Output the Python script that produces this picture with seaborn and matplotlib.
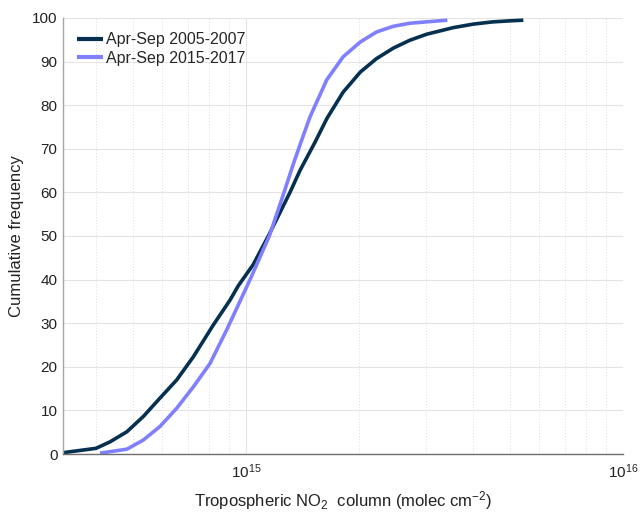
import numpy as np
import pandas as pd
import matplotlib
matplotlib.use("Agg")
import matplotlib.pyplot as plt
import seaborn as sns
from matplotlib.ticker import LogLocator, NullFormatter

# ---- data (x in molec cm^-2, y cumulative frequency %) ----
x_2005 = [3.27e14, 4.0e14, 4.36e14, 4.83e14, 5.34e14, 5.91e14, 6.55e14, 7.25e14,
          8.19e14, 9.07e14, 9.54e14, 1.046e15, 1.146e15, 1.308e15, 1.39e15, 1.524e15, 1.64e15,
          1.81e15, 2.01e15, 2.22e15, 2.46e15, 2.72e15, 3.02e15, 3.55e15,
          4.01e15, 4.5e15, 5.01e15, 5.44e15]
y_2005 = [0.3, 1.3, 2.8, 5.1, 8.6, 12.8, 17.0, 22.3,
          29.6, 35.3, 38.6, 43.5, 50.0, 60.0, 65.0, 71.5, 77.0,
          83.0, 87.6, 90.7, 93.1, 94.9, 96.3, 97.8,
          98.6, 99.1, 99.35, 99.5]

x_2015 = [4.1e14, 4.83e14, 5.34e14, 5.91e14, 6.55e14, 7.25e14, 8.03e14, 8.89e14,
          1.025e15, 1.153e15, 1.256e15, 1.335e15, 1.405e15, 1.478e15, 1.637e15,
          1.81e15, 2.01e15, 2.22e15, 2.46e15, 2.72e15, 3.42e15]
y_2015 = [0.2, 1.1, 3.2, 6.3, 10.5, 15.4, 20.8, 28.5,
          40.0, 50.0, 59.5, 66.5, 72.0, 77.3, 85.8,
          91.1, 94.5, 96.8, 98.1, 98.8, 99.5]

labels = ["Apr-Sep 2005-2007", "Apr-Sep 2015-2017"]
colors = ["#06304f", "#8080ff"]
y_ticks = list(range(0, 101, 10))

df = pd.concat([
    pd.DataFrame({"x": x_2005, "y": y_2005, "period": labels[0]}),
    pd.DataFrame({"x": x_2015, "y": y_2015, "period": labels[1]}),
], ignore_index=True)

sns.set_style("white")
plt.rcParams["font.family"] = ["Liberation Sans", "DejaVu Sans"]
plt.rcParams["mathtext.fontset"] = "custom"
plt.rcParams["mathtext.rm"] = "Liberation Sans"
plt.rcParams["mathtext.it"] = "Liberation Sans:italic"
plt.rcParams["lines.solid_joinstyle"] = "round"
plt.rcParams["lines.solid_capstyle"] = "butt"

fig = plt.figure(figsize=(6.4, 5.15), dpi=100)
ax = fig.add_axes([63/640, 1 - 454/515, (623 - 63)/640, (454 - 18)/515])

sns.lineplot(data=df, x="x", y="y", hue="period", palette=colors,
             linewidth=2.6, estimator=None, sort=False, ax=ax)

ax.set_xscale("log")
ax.set_xlim(3.27e14, 1e16)
ax.set_ylim(0, 100)
ax.set_yticks(y_ticks)

ax.xaxis.set_major_locator(LogLocator(base=10))
ax.xaxis.set_minor_locator(LogLocator(base=10, subs=np.arange(2, 10)))
ax.xaxis.set_minor_formatter(NullFormatter())

ax.grid(True, which="major", axis="both", color="#e4e4e4", linewidth=0.8, linestyle="-")
ax.grid(True, which="minor", axis="x", color="#dcdcdc", linewidth=0.7, linestyle=(0, (1, 2)))
ax.set_axisbelow(True)

for s in ["top", "right"]:
    ax.spines[s].set_visible(False)
ax.spines["left"].set_color("#a6a6a6")
ax.spines["bottom"].set_color("#6e6e6e")
ax.spines["left"].set_linewidth(1.0)
ax.spines["bottom"].set_linewidth(1.0)

ax.tick_params(axis="both", which="both", direction="in", labelsize=11, colors="#333333")
ax.tick_params(axis="x", which="major", length=5, pad=6)
ax.tick_params(axis="x", which="minor", length=3)
ax.tick_params(axis="y", which="major", length=5, pad=4)
for lab in ax.get_xticklabels() + ax.get_yticklabels():
    lab.set_color("#222222")

ax.set_xlabel("Tropospheric NO$_2$  column (molec cm$^{-2}$)", fontsize=12, color="#222222", labelpad=6)
ax.set_ylabel("Cumulative frequency", fontsize=12, color="#222222", labelpad=6)

leg = ax.legend(loc="upper left", frameon=False, fontsize=11.5, handlelength=1.6,
                handletextpad=0.2, labelspacing=0.2, borderaxespad=0.5,
                bbox_to_anchor=(0.0, 1.0))
for h, c in zip(leg.get_lines(), colors):
    h.set_linewidth(3)
    h.set_color(c)

fig.savefig("out.png", dpi=100)
